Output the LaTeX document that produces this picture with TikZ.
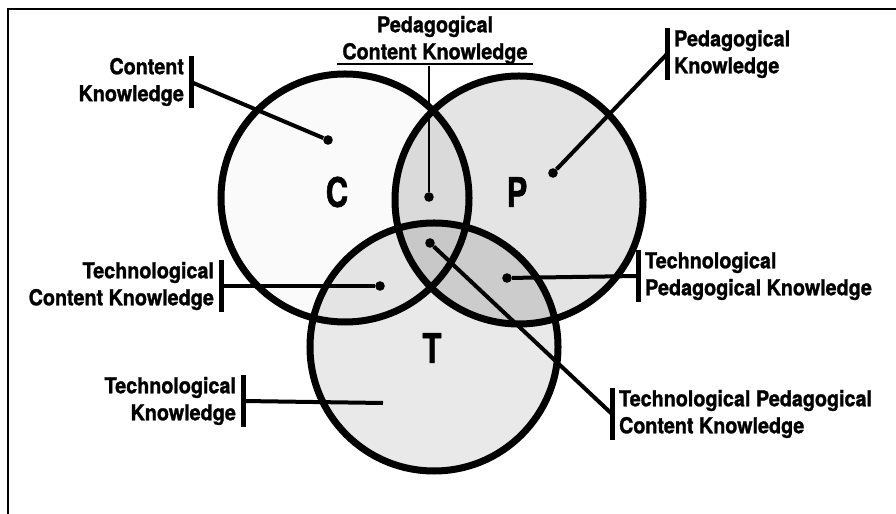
\documentclass[tikz,border=0pt]{standalone}
\usepackage{fontspec}
\setmainfont{TeX Gyre Heros}[FakeStretch=0.9, BoldFeatures={FakeBold=1.3}]
\newfontfamily\vennletter{TeX Gyre Heros}[FakeStretch=0.76, BoldFeatures={FakeBold=1.3}]
\usetikzlibrary{positioning}

\tikzset{
    ring/.style={draw, line width=1.75mm},
    dot/.style={circle, fill=black, inner sep=0pt, minimum size=2.4mm},
    lead/.style={line width=1mm},
    bar/.style={line width=1.25mm},
    lbl/.style={font=\bfseries\fontsize{15.6}{19.2}\selectfont, inner xsep=1.7mm, inner ysep=0.4mm},
    letter/.style={font=\vennletter\bfseries\fontsize{29}{30}\selectfont, inner sep=0pt}
}

\begin{document}
\begin{tikzpicture}[x=0.25mm, y=-0.25mm]
    \useasboundingbox (0,0) rectangle (896,514);
    \draw[line width=0.5mm] (8,514) -- (8,9) -- (896,9);

    \coordinate (c) at (345,198);
    \coordinate (p) at (519,200);
    \coordinate (t) at (434,347);

    % circle fills and overlaps
    \fill[gray!4] (c) circle (31mm);
    \fill[gray!21] (p) circle (31mm);
    \fill[gray!17] (t) circle (31mm);
    \begin{scope}
        \clip (p) circle (31mm);
        \fill[gray!40] (t) circle (31mm);
    \end{scope}
    \begin{scope}
        \clip (c) circle (31mm);
        \fill[gray!29] (p) circle (31mm);
        \fill[gray!21] (t) circle (31mm);
        \clip (p) circle (31mm);
        \fill[gray!43] (t) circle (31mm);
    \end{scope}
    \draw[ring] (c) circle (31mm);
    \draw[ring] (p) circle (31mm);
    \draw[ring] (t) circle (31mm);

    \node[letter] (cl) at (337,192) {C};
    \node[letter] (pl) at (517,192) {P};
    \node[letter] (tl) at (432,348) {T};

    % labels
    \node[lbl, align=right, anchor=east] (ck) at (191,82) {Content\\Knowledge};
    \node[lbl, align=center] (pck) at (435,40) {Pedagogical\\Content Knowledge};
    \draw[line width=0.55mm] ([xshift=0.4mm, yshift=0.4mm]pck.south west) -- ([xshift=-0.4mm, yshift=0.4mm]pck.south east);
    \node[lbl, align=left, anchor=west] (pk) at (667,54) {Pedagogical\\Knowledge};
    \node[lbl, align=right, anchor=east] (tck) at (221,286) {Technological\\Content Knowledge};
    \node[lbl, align=left, anchor=west] (tpk) at (638,276) {Technological\\Pedagogical Knowledge};
    \node[lbl, align=right, anchor=east] (tk) at (243,401) {Technological\\Knowledge};
    \node[lbl, align=left, anchor=west] (tpck) at (612,414) {Technological Pedagogical\\Content Knowledge};

    \node[dot] (ckdot) at (328,140) {};
    \node[dot] (pckdot) at (429,197) {};
    \node[dot] (pkdot) at (553,173) {};
    \node[dot] (tckdot) at (380,286) {};
    \node[dot] (tpkdot) at (507,278) {};
    \node[dot] (tpckdot) at (430,243) {};
    \coordinate (tkend) at (383,403);

    \draw[bar] (ck.north east) -- (ck.south east);
    \draw[bar] (pk.north west) -- (pk.south west);
    \draw[bar] (tck.north east) -- (tck.south east);
    \draw[bar] (tpk.north west) -- (tpk.south west);
    \draw[bar] (tk.north east) -- (tk.south east);
    \draw[bar] (tpck.north west) -- (tpck.south west);

    \draw[lead] (ck.east) -- (ckdot);
    \draw[line width=0.6mm] (pckdot) -- (pckdot |- pck.south);
    \draw[lead] (pk.west) -- (pkdot);
    \draw[lead] (tck.east) -- (tckdot);
    \draw[lead] (tpk.west) -- (tpkdot);
    \draw[lead] (tk.east) -- (tkend);
    \draw[lead] (tpck.west) -- (tpckdot);
\end{tikzpicture}
\end{document}
